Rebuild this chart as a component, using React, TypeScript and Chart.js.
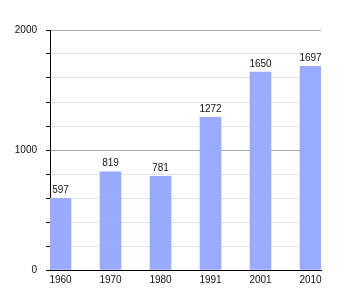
import React, { useEffect, useRef } from "react";
import { Chart, registerables } from "chart.js";

Chart.register(...registerables);

const years = ["1960", "1970", "1980", "1991", "2001", "2010"];
const population = [597, 819, 781, 1272, 1650, 1697];
const yTickLabels = [0, 1000, 2000];

const FONT = "'Liberation Sans', Arial, sans-serif";

const valueLabels = {
  id: "valueLabels",
  afterDatasetsDraw(chart: any) {
    const ctx = chart.ctx;
    const meta = chart.getDatasetMeta(0);
    ctx.save();
    ctx.font = `10px ${FONT}`;
    ctx.fillStyle = "#111";
    ctx.textAlign = "center";
    ctx.textBaseline = "bottom";
    meta.data.forEach((bar: any, i: number) => {
      ctx.fillText(String(population[i]), bar.x, bar.y - 3);
    });
    ctx.restore();
  },
};

export default function App() {
  const ref = useRef<HTMLCanvasElement | null>(null);
  useEffect(() => {
    const canvas = ref.current!;
    const chart = new Chart(canvas, {
      type: "bar",
      data: {
        labels: years,
        datasets: [
          {
            data: population.map((v, i) => ({ x: i, y: v })),
            backgroundColor: "#9aabff",
            borderWidth: 0,
            barThickness: 21,
          },
        ],
      },
      plugins: [valueLabels],
      options: {
        responsive: false,
        animation: false,
        events: [],
        layout: { padding: { left: 0, right: 29, top: 30, bottom: 0 } },
        plugins: { legend: { display: false }, tooltip: { enabled: false } },
        scales: {
          x: {
            type: "linear",
            offset: false,
            min: -0.21,
            max: years.length - 1 + 0.21,
            afterBuildTicks: (scale: any) => {
              scale.ticks = years.map((_, i) => ({ value: i }));
            },
            afterFit: (scale: any) => {
              scale.height = 30;
            },
            grid: { display: false, drawTicks: false, offset: false },
            border: { display: true, color: "#000", width: 1 },
            ticks: {
              padding: 4,
              autoSkip: false,
              maxRotation: 0,
              color: "#111",
              font: { family: FONT, size: 10 },
              callback: (v: any) => years[v as number] ?? "",
            },
          },
          y: {
            type: "linear",
            min: 0,
            max: 2000,
            afterFit: (scale: any) => {
              scale.width = 50;
            },
            grid: {
              color: (c: any) =>
                c.tick && c.tick.value % 1000 === 0 ? "#aaaaaa" : "#e4e4e4",
              tickColor: "#000",
              tickLength: 4,
            },
            border: { display: true, color: "#000", width: 1 },
            ticks: {
              stepSize: 200,
              padding: 9,
              color: "#111",
              font: { family: FONT, size: 10 },
              callback: (v: any) =>
                yTickLabels.includes(v as number) ? String(v) : "",
            },
          },
        },
      },
    } as any);
    return () => chart.destroy();
  }, []);
  return (
    <div style={{ position: "fixed", left: 0, top: 0, width: 350, height: 300, background: "#fff" }}>
      <canvas ref={ref} width={350} height={300} style={{ width: 350, height: 300 }} />
    </div>
  );
}
